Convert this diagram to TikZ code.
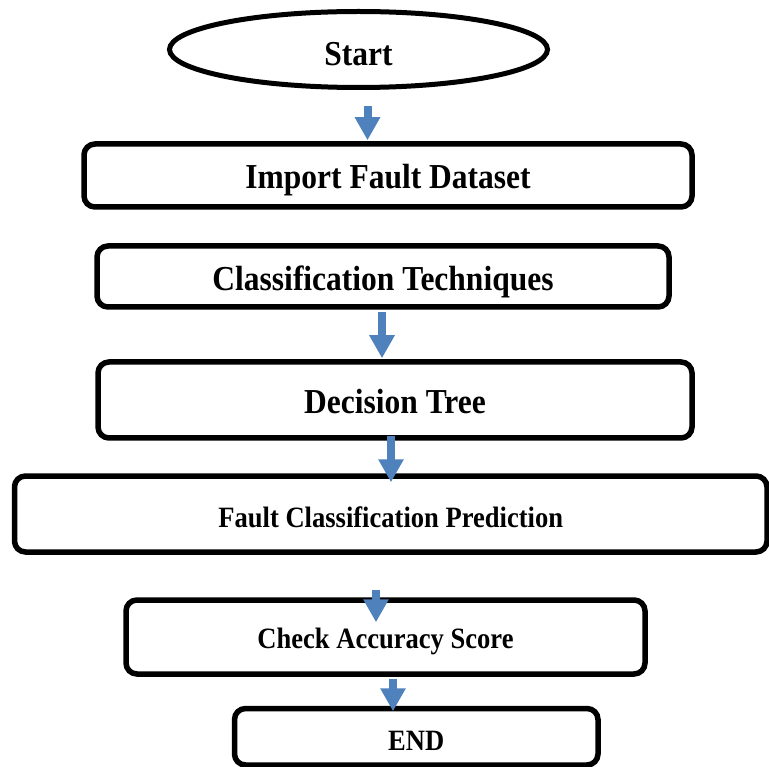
\documentclass[tikz,border=0pt]{standalone}
\usepackage{fontspec}
\setmainfont{Liberation Serif}
\newfontfamily\tnr[FakeStretch=0.9]{Liberation Serif}
\usetikzlibrary{shapes.geometric,arrows.meta}
\definecolor{flowblue}{HTML}{4F81BD}
\begin{document}
\begin{tikzpicture}[x=1pt,y=-1pt,
  box/.style={draw=black,line width=5.5pt,rounded corners=11pt,inner sep=0pt,align=center},
  term/.style={draw=black,line width=5pt,ellipse,inner sep=0pt,align=center},
  big/.style={font=\tnr\bfseries\fontsize{35}{40}\selectfont,text depth=0pt},
  small/.style={font=\tnr\bfseries\fontsize{29.5}{34}\selectfont,text depth=0pt},
  flow/.style={draw=flowblue,line width=8pt,-{Triangle[width=24pt,length=23pt]}}]
\useasboundingbox (0,0) rectangle (769,767);
\fill[white] (0,0) rectangle (769,767);

\node[term,big,text height=32.2pt,minimum width=378pt,minimum height=76pt] (start) at (358.5,49.5) {Start};
\node[box,big,text height=26.2pt,minimum width=608pt,minimum height=63pt] (imp) at (388,175.5) {Import Fault Dataset};
\node[box,big,text height=27.2pt,minimum width=572pt,minimum height=61pt] (cls) at (383,276.5) {Classification Techniques};
\node[box,big,text height=26.2pt,minimum width=594pt,minimum height=76pt] (dt) at (395,400) {Decision Tree};
\node[box,small,text height=27.5pt,minimum width=752.5pt,minimum height=76pt] (fcp) at (390.75,514) {Fault Classification Prediction};
\node[box,small,text height=22.5pt,minimum width=519pt,minimum height=74pt] (acc) at (385.5,637) {Check Accuracy Score};
\node[box,small,text height=27.5pt,minimum width=363.5pt,minimum height=56.5pt] (end) at (416.25,736.75) {END};

\draw[flow] ([xshift=9pt,yshift=-16.5pt]start.south) -- ([xshift=-20.5pt,yshift=1pt]imp.north);
\draw[flow] ([xshift=-1pt,yshift=-2pt]cls.south) -- ([xshift=-13pt,yshift=1pt]dt.north);
\draw[flow] ([xshift=-4pt,yshift=5pt]dt.south) -- ([xshift=0.25pt,yshift=-9pt]fcp.north);
\draw[flow] ([xshift=-14.75pt,yshift=-35pt]fcp.south) -- ([xshift=-9.5pt,yshift=-25pt]acc.north);
\draw[flow] ([xshift=7.5pt,yshift=-2pt]acc.south) -- ([xshift=-23.25pt,yshift=-5.5pt]end.north);
\end{tikzpicture}
\end{document}
